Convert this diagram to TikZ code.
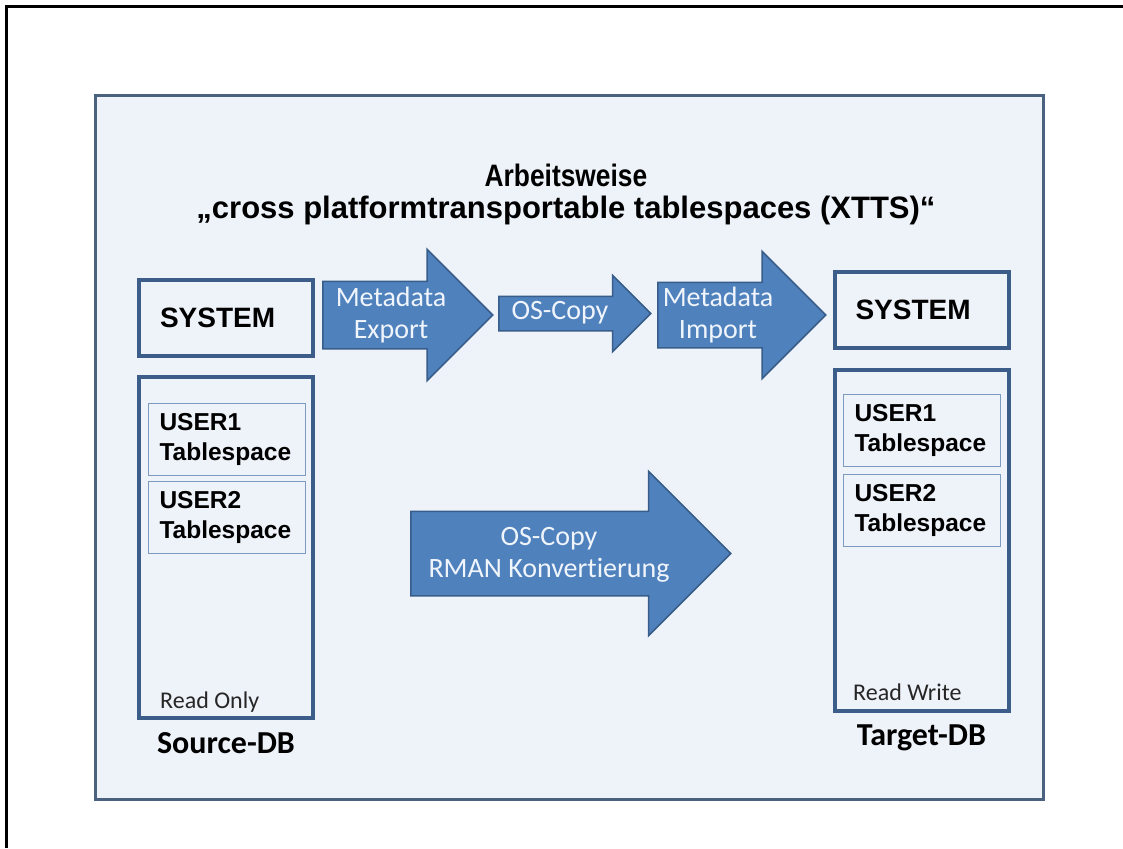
\documentclass[tikz,border=0pt]{standalone}
\usepackage{fontspec}
\setmainfont{Carlito}[Ligatures=NoCommon]
\newfontfamily\arialfont{Liberation Sans}
\newfontfamily\titlefont[FakeStretch=0.85]{Liberation Sans}
\usetikzlibrary{shapes.arrows,positioning}

\definecolor{panelfill}{RGB}{238,242,249}
\definecolor{panelline}{RGB}{74,98,128}
\definecolor{boxline}{RGB}{60,92,138}
\definecolor{tsline}{RGB}{125,155,192}
\definecolor{arrowfill}{RGB}{79,129,189}
\definecolor{arrowline}{RGB}{56,93,138}
\definecolor{arrowtext}{RGB}{240,245,252}

\begin{document}
\begin{tikzpicture}[x=1pt, y=-1pt,
  panel/.style={draw=panelline, fill=panelfill, line width=3pt},
  sysbox/.style={draw=boxline, line width=4pt, minimum width=174, minimum height=76,
    text width=132, align=left, inner xsep=0pt,
    font=\arialfont\bfseries\fontsize{28}{32}\selectfont},
  dbbox/.style={draw=boxline, line width=4pt, minimum width=174, minimum height=341},
  tsbox/.style={draw=tsline, line width=0.8pt, minimum width=157, minimum height=72,
    text width=134, align=left, inner xsep=0pt,
    font=\arialfont\bfseries\fontsize{24.5}{30}\selectfont},
  blockarrow/.style={single arrow, draw=arrowline, fill=arrowfill, line width=1.5pt,
    anchor=tail, inner xsep=0pt},
  arrtxt/.style={text=arrowtext, align=center, font=\fontsize{28}{32}\selectfont},
  note/.style={anchor=base west, inner sep=0pt, font=\fontsize{24}{28}\selectfont, text=black!85},
  dblbl/.style={font=\bfseries\fontsize{32}{36}\selectfont},
]
\useasboundingbox (0,0) rectangle (1123,848);

%% Page frame and slide panel
\draw[line width=3pt] (6,848) -- (6,7) -- (1123,7);
\draw[panel] (95,95.5) rectangle (1043.5,799.5);

%% Title
\node[align=center, font=\bfseries\fontsize{31}{32}\selectfont] (title) at (566,194)
  {{\titlefont Arbeitsweise}\\{\arialfont „cross platformtransportable tablespaces (XTTS)“}};

%% Source database
\node[sysbox] (srcsys) at (226,318) {SYSTEM};
\node[dbbox] (srcdb) at (226,547.5) {};
\node[tsbox] (srcts1) at (226.5,439) {USER1\\Tablespace};
\node[tsbox] (srcts2) at (226.5,517.5) {USER2\\Tablespace};
\node[note] (srcro) at (160,708) {Read Only};
\node[dblbl, below=9pt of srcdb] (srclbl) {Source-DB};

%% Target database
\node[sysbox] (tgtsys) at (921.5,310) {SYSTEM};
\node[dbbox] (tgtdb) at (921.5,540) {};
\node[tsbox] (tgtts1) at (921.5,430.5) {USER1\\Tablespace};
\node[tsbox] (tgtts2) at (921.5,510) {USER2\\Tablespace};
\node[note] (tgtrw) at (853,700) {Read Write};
\node[dblbl, below=9pt of tgtdb] (tgtlbl) {Target-DB};

%% Metadata path
\node[blockarrow, inner ysep=33, minimum height=170, single arrow head extend=32] (mexp) at (322,315) {};
\node[arrtxt] (mexptxt) at (391,315) {Metadata\\Export};
\node[blockarrow, inner ysep=16.5, minimum height=152, single arrow head extend=21] (oscp) at (498,313.5) {};
\node[arrtxt] (oscptxt) at (560,313) {OS-Copy};
\node[blockarrow, inner ysep=32, minimum height=168, single arrow head extend=31] (mimp) at (657,315) {};
\node[arrtxt] (mimptxt) at (718,315) {Metadata\\Import};

%% Data file path
\node[blockarrow, inner ysep=41.5, minimum height=320, single arrow head extend=40] (rman) at (410,553.5) {};
\node[arrtxt] (rmantxt) at (549,555) {OS-Copy\\RMAN Konvertierung};

\end{tikzpicture}
\end{document}
